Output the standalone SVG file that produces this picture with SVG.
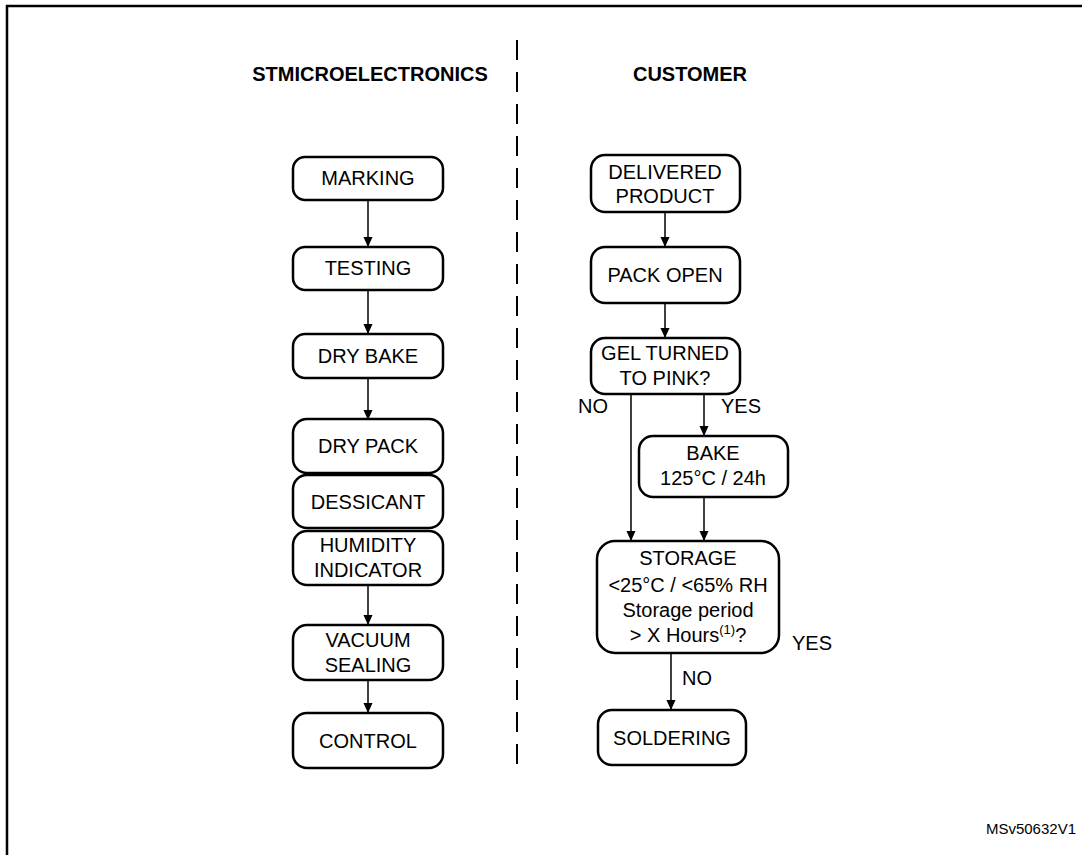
<svg xmlns="http://www.w3.org/2000/svg" width="1082" height="855" viewBox="0 0 1082 855">
<defs>
<marker id="ah" markerWidth="10" markerHeight="12" refX="11" refY="5" orient="auto" markerUnits="userSpaceOnUse" viewBox="0 0 11 10">
<path d="M0,0 L11,5 L0,10 Z" fill="#000"/>
</marker>
<style>
.box{fill:#fff;stroke:#000;stroke-width:2.5}
.t{font-family:"Liberation Sans",Arial,sans-serif;font-size:20px;fill:#000;text-anchor:middle}
.h{font-family:"Liberation Sans",Arial,sans-serif;font-size:20px;font-weight:bold;fill:#000;text-anchor:middle}
.a{stroke:#000;stroke-width:1.5;fill:none;marker-end:url(#ah)}
</style>
</defs>
<rect width="1082" height="855" fill="#fff"/>
<path d="M7,870 V6 H1090" fill="none" stroke="#000" stroke-width="2.5"/>
<line x1="517" y1="40" x2="517" y2="775" stroke="#000" stroke-width="2" stroke-dasharray="20,12"/>
<text class="h" x="370" y="81">STMICROELECTRONICS</text>
<text class="h" x="690" y="81">CUSTOMER</text>

<g id="connectors">
<line class="a" x1="368" y1="200" x2="368" y2="247"/>
<line class="a" x1="368" y1="290" x2="368" y2="334"/>
<line class="a" x1="368" y1="378" x2="368" y2="420"/>
<line class="a" x1="368" y1="585" x2="368" y2="625"/>
<line class="a" x1="368" y1="680" x2="368" y2="713"/>
<line class="a" x1="665" y1="212" x2="665" y2="247"/>
<line class="a" x1="665" y1="303" x2="665" y2="338"/>
<line class="a" x1="631" y1="394" x2="631" y2="541"/>
<line class="a" x1="704" y1="394" x2="704" y2="436"/>
<line class="a" x1="704" y1="497" x2="704" y2="541"/>
<line class="a" x1="671" y1="653" x2="671" y2="710"/>
<text class="t" x="593" y="413">NO</text>
<text class="t" x="741" y="413">YES</text>
<text class="t" x="812" y="650">YES</text>
<text class="t" x="697" y="685">NO</text>
</g>

<g id="marking"><rect class="box" x="293" y="157" width="150" height="43" rx="12"/><text class="t" x="368" y="185">MARKING</text></g>
<g id="testing"><rect class="box" x="293" y="247" width="150" height="43" rx="12"/><text class="t" x="368" y="275">TESTING</text></g>
<g id="drybake"><rect class="box" x="293" y="334" width="150" height="44" rx="12"/><text class="t" x="368" y="363">DRY BAKE</text></g>
<g id="drypack"><rect class="box" x="293" y="419" width="150" height="54" rx="14"/><text class="t" x="368" y="453">DRY PACK</text></g>
<g id="dessicant"><rect class="box" x="293" y="475" width="150" height="53" rx="14"/><text class="t" x="368" y="509">DESSICANT</text></g>
<g id="humidity"><rect class="box" x="293" y="531" width="150" height="54" rx="14"/><text class="t" x="368" y="552">HUMIDITY</text><text class="t" x="368" y="577">INDICATOR</text></g>
<g id="vacuum"><rect class="box" x="293" y="625" width="150" height="55" rx="14"/><text class="t" x="368" y="647">VACUUM</text><text class="t" x="368" y="672">SEALING</text></g>
<g id="control"><rect class="box" x="293" y="713" width="150" height="55" rx="14"/><text class="t" x="368" y="748">CONTROL</text></g>

<g id="delivered"><rect class="box" x="591" y="155" width="149" height="57" rx="14"/><text class="t" x="665" y="179">DELIVERED</text><text class="t" x="665" y="203">PRODUCT</text></g>
<g id="packopen"><rect class="box" x="591" y="247" width="149" height="56" rx="14"/><text class="t" x="665" y="282">PACK OPEN</text></g>
<g id="gel"><rect class="box" x="591" y="338" width="149" height="56" rx="14"/><text class="t" x="665" y="360">GEL TURNED</text><text class="t" x="665" y="385">TO PINK?</text></g>
<g id="bake"><rect class="box" x="639" y="436" width="149" height="61" rx="14"/><text class="t" x="713" y="460">BAKE</text><text class="t" x="713" y="485">125°C / 24h</text></g>
<g id="storage"><rect class="box" x="597" y="541" width="182" height="112" rx="18"/><text class="t" x="688" y="565">STORAGE</text><text class="t" x="688" y="592">&lt;25°C / &lt;65% RH</text><text class="t" x="688" y="617">Storage period</text><text class="t" x="688" y="642">&gt; X Hours<tspan font-size="13" dy="-8">(1)</tspan><tspan dy="8">?</tspan></text></g>
<g id="soldering"><rect class="box" x="598" y="710" width="148" height="55" rx="14"/><text class="t" x="672" y="745">SOLDERING</text></g>

<text x="1076" y="834" font-family="'Liberation Sans',Arial,sans-serif" font-size="15" text-anchor="end">MSv50632V1</text>
</svg>
